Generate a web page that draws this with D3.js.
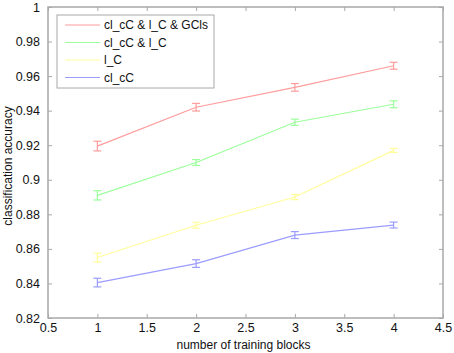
<!DOCTYPE html>
<html>
<head>
<meta charset="utf-8">
<script src="https://cdn.jsdelivr.net/npm/d3@7"></script>
<style>
  body { margin: 0; background: #fff; }
  text { font-family: "Liberation Sans", Arial, sans-serif; }
</style>
</head>
<body>
<div id="chart"></div>
<script>
const blocks = [1, 2, 3, 4];
const seriesNames = ["cl_cC & l_C & GCls", "cl_cC & l_C", "l_C", "cl_cC"];
const seriesColors = ["#ff9c9c", "#9cff9c", "#ffff9c", "#9c9cff"];
const accRed = [0.9195, 0.942, 0.9535, 0.966];
const accGreen = [0.891, 0.910, 0.9333, 0.9437];
const accYellow = [0.855, 0.8737, 0.890, 0.917];
const accBlue = [0.8405, 0.8515, 0.868, 0.8738];
const errRed = [0.0028, 0.0022, 0.0022, 0.002];
const errGreen = [0.0027, 0.0017, 0.0018, 0.002];
const errYellow = [0.0025, 0.0017, 0.0015, 0.0012];
const errBlue = [0.0025, 0.0022, 0.002, 0.0017];
const xTicks = [0.5, 1, 1.5, 2, 2.5, 3, 3.5, 4, 4.5];
const yTicks = [0.82, 0.84, 0.86, 0.88, 0.9, 0.92, 0.94, 0.96, 0.98, 1];

const series = [
    { name: seriesNames[0], color: seriesColors[0], acc: accRed, err: errRed },
    { name: seriesNames[1], color: seriesColors[1], acc: accGreen, err: errGreen },
    { name: seriesNames[2], color: seriesColors[2], acc: accYellow, err: errYellow },
    { name: seriesNames[3], color: seriesColors[3], acc: accBlue, err: errBlue }
];

const margin = { top: 7, right: 11, bottom: 35, left: 48 };
const W = 454, H = 353;
const width = W - margin.left - margin.right;
const height = H - margin.top - margin.bottom;

const svg = d3.select("#chart").append("svg")
    .attr("width", W).attr("height", H)
    .append("g")
    .attr("transform", `translate(${margin.left},${margin.top})`);

const x = d3.scaleLinear().domain([0.5, 4.5]).range([0, width]);
const y = d3.scaleLinear().domain([0.82, 1]).range([height, 0]);

const axisColor = "#a8a8a8";
const fmt = d => d3.format("")(+d.toFixed(2));

// box
svg.append("rect").attr("width", width).attr("height", height)
    .attr("fill", "#fff").attr("stroke", axisColor).attr("stroke-width", 1.5);

// axes (ticks inward)
const xb = svg.append("g").attr("transform", `translate(0,${height})`)
    .call(d3.axisBottom(x).tickValues(xTicks).tickSize(-4).tickPadding(6).tickFormat(fmt));
const xt = svg.append("g")
    .call(d3.axisTop(x).tickValues(xTicks).tickSize(-4).tickFormat(""));
const yl = svg.append("g")
    .call(d3.axisLeft(y).tickValues(yTicks).tickSize(-4).tickPadding(8).tickFormat(fmt));
const yr = svg.append("g").attr("transform", `translate(${width},0)`)
    .call(d3.axisRight(y).tickValues(yTicks).tickSize(-4).tickFormat(""));

[xb, xt, yl, yr].forEach(g => {
    g.select(".domain").remove();
    g.selectAll(".tick line").attr("stroke", axisColor);
    g.selectAll(".tick text").attr("fill", "#111").style("font-size", "12.5px")
        .style("font-family", "'Liberation Sans', Arial, sans-serif");
});
xb.selectAll(".tick text").attr("y", 5);

// lines + error bars
const line = d3.line().x((d, i) => x(blocks[i])).y(d => y(d));
series.forEach(s => {
    svg.append("path").datum(s.acc)
        .attr("d", line).attr("fill", "none")
        .attr("stroke", s.color).attr("stroke-width", 1.2);
    const eb = svg.append("g").attr("stroke", s.color).attr("stroke-width", 1.2);
    blocks.forEach((b, i) => {
        const cx = x(b), y0 = y(s.acc[i] - s.err[i]), y1 = y(s.acc[i] + s.err[i]);
        eb.append("line").attr("x1", cx).attr("x2", cx).attr("y1", y0).attr("y2", y1);
        eb.append("line").attr("x1", cx - 4).attr("x2", cx + 4).attr("y1", y0).attr("y2", y0);
        eb.append("line").attr("x1", cx - 4).attr("x2", cx + 4).attr("y1", y1).attr("y2", y1);
    });
});

// legend
const lg = svg.append("g").attr("transform", "translate(9,8)");
lg.append("rect").attr("width", 157).attr("height", 73)
    .attr("fill", "#fff").attr("stroke", axisColor).attr("stroke-width", 1);
series.forEach((s, i) => {
    const ly = 10 + i * 17.5;
    lg.append("line").attr("x1", 8).attr("x2", 43).attr("y1", ly).attr("y2", ly)
        .attr("stroke", s.color).attr("stroke-width", 1.2);
    lg.append("text").attr("x", 47).attr("y", ly).attr("dy", "0.35em")
        .style("font-size", "12px").attr("fill", "#111").text(s.name);
});

// axis labels
svg.append("text").attr("x", width / 2 - 2).attr("y", height + 31)
    .attr("text-anchor", "middle").style("font-size", "12px").attr("fill", "#111")
    .text("number of training blocks");
svg.append("text").attr("transform", "rotate(-90)")
    .attr("x", -159).attr("y", -36)
    .attr("text-anchor", "middle").style("font-size", "12px").attr("fill", "#111")
    .text("classification accuracy");
</script>
</body>
</html>
